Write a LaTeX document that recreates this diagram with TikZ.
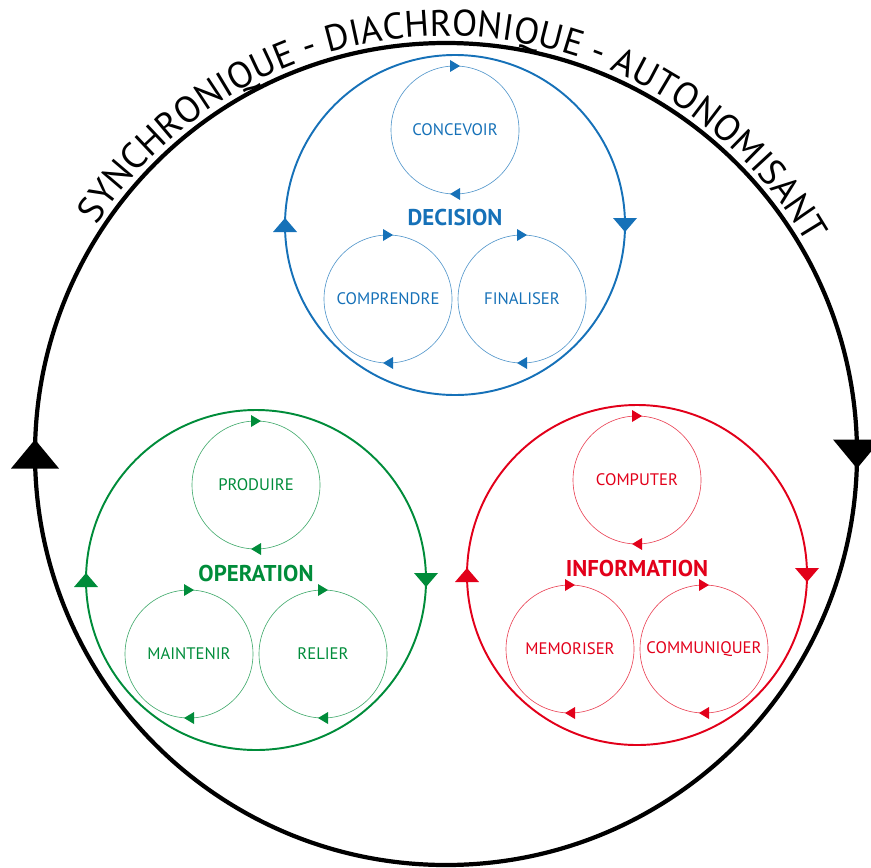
\documentclass[tikz,border=0pt]{standalone}
\usepackage{fontspec}
\setmainfont{PT Sans}
\usetikzlibrary{decorations.markings,decorations.text}
\definecolor{decblue}{RGB}{22,113,184}
\definecolor{opgreen}{RGB}{0,140,58}
\definecolor{infred}{RGB}{226,0,26}
\tikzset{
  % arrow heads at the left and right of a ring, turning clockwise
  side tips/.style n args={3}{postaction=decorate,
    decoration={markings,
      mark=at position 0 with {\fill[#3] (-#1/2,0) -- (#1/2,#2/2) -- (#1/2,-#2/2) -- cycle;},
      mark=at position 0.5 with {\fill[#3] (-#1/2,0) -- (#1/2,#2/2) -- (#1/2,-#2/2) -- cycle;}}},
  % arrow heads at the top and bottom of a ring, turning clockwise
  pole tips/.style={postaction=decorate,
    decoration={markings,
      mark=at position 0.25 with {\fill[#1] (-5,0) -- (5,6) -- (5,-6) -- cycle;},
      mark=at position 0.75 with {\fill[#1] (-5,0) -- (5,6) -- (5,-6) -- cycle;}}},
  main ring/.style={line width=1.1pt, side tips={14}{24}{#1}, draw=#1},
  sub ring/.style={line width=0.35pt, draw=#1!75, pole tips=#1},
  cycle title/.style={font=\bfseries\fontsize{13}{15}\selectfont},
  step label/.style={font=\fontsize{9.5}{11}\selectfont}
}
\begin{document}
\begin{tikzpicture}[x=0.02cm,y=0.02cm]
  \useasboundingbox (0,0) rectangle (871,867);
  \coordinate (hub) at (446,413);
  \draw[line width=2.4pt, side tips={29}{48}{black}] (hub) circle[radius=411];
  \path[decorate, decoration={text along path, text align=center,
      text={|\fontsize{21}{21}\selectfont|SYNCHRONIQUE - DIACHRONIQUE - AUTONOMISANT}}]
    (hub) ++(180:418) arc[start angle=180, end angle=-3, radius=418];

  % decision
  \begin{scope}[shift={(455,642)}, every node/.style={text=decblue}]
    \node[cycle title] (decision) at (0,7) {DECISION};
    \node[step label] (concevoir) at (0,95) {CONCEVOIR};
    \node[step label] (comprendre) at (-67,-74) {COMPRENDRE};
    \node[step label] (finaliser) at (67,-74) {FINALISER};
    \draw[main ring=decblue] (0,0) circle[radius=170];
    \foreach \n in {concevoir,comprendre,finaliser}
      \draw[sub ring=decblue] (\n.center) circle[radius=64];
  \end{scope}

  % operation
  \begin{scope}[shift={(256,287)}, every node/.style={text=opgreen}]
    \node[cycle title] (operation) at (0,7) {OPERATION};
    \node[step label] (produire) at (0,95) {PRODUIRE};
    \node[step label] (maintenir) at (-67,-74) {MAINTENIR};
    \node[step label] (relier) at (67,-74) {RELIER};
    \draw[main ring=opgreen] (0,0) circle[radius=170];
    \foreach \n in {produire,maintenir,relier}
      \draw[sub ring=opgreen] (\n.center) circle[radius=64];
  \end{scope}

  % information
  \begin{scope}[shift={(637,292)}, every node/.style={text=infred}]
    \node[cycle title] (information) at (0,7) {INFORMATION};
    \node[step label] (computer) at (0,95) {COMPUTER};
    \node[step label] (memoriser) at (-67,-74) {MEMORISER};
    \node[step label] (communiquer) at (67,-74) {COMMUNIQUER};
    \draw[main ring=infred] (0,0) circle[radius=170];
    \foreach \n in {computer,memoriser,communiquer}
      \draw[sub ring=infred] (\n.center) circle[radius=64];
  \end{scope}
\end{tikzpicture}
\end{document}
